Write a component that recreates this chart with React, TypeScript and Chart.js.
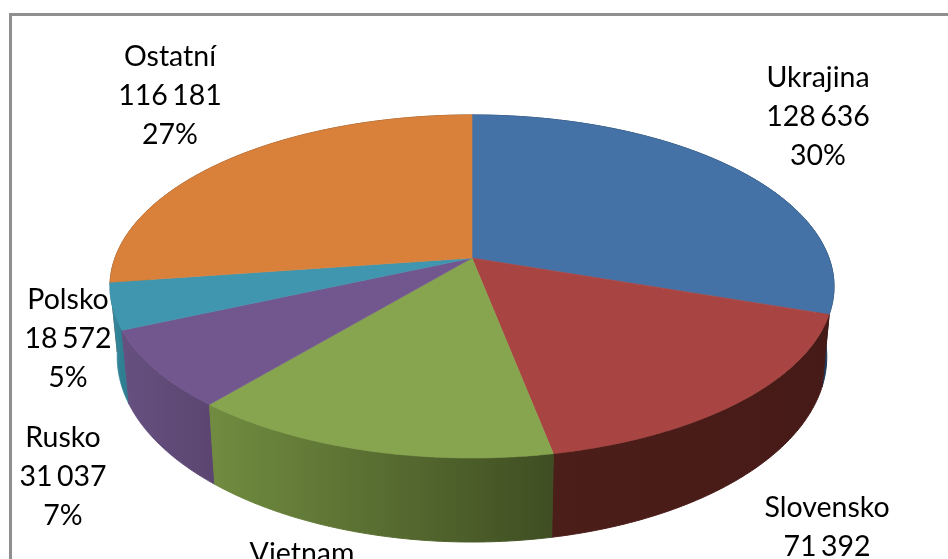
import React, { useEffect, useRef } from "react";
import { Chart, registerables } from "chart.js";

Chart.register(...registerables);

const categories = ["Ukrajina", "Slovensko", "Vietnam", "Rusko", "Polsko", "Ostatní"];
const values = [128636, 71392, 60258, 31037, 18572, 116181];
const valueTexts = ["128 636", "71 392", "", "31 037", "18 572", "116 181"];
const percentTexts = ["30%", "17%", "", "7%", "5%", "27%"];

const topColors = ["#4472a6", "#a84542", "#87a54f", "#72578f", "#3f96ae", "#d9813b"];
const wallLeft = ["#2a4668", "#4c1e1a", "#718c40", "#655080", "#3a8ca2", "#8a5226"];
const wallRight = ["#1f3a58", "#461a17", "#3f4e22", "#5c4671", "#2f7f93", "#8a5226"];

const labelAnchors: [number, number][] = [
  [818, 78], [827, 508], [302, 554], [63, 438], [68, 300], [170, 57],
];

const CX = 472, CY = 258, K = 0.166, A = 166.8, C = 357;

function project(a: number): [number, number] {
  const u = Math.cos(a), v = Math.sin(a);
  const w = 1 - K * v;
  return [(C * u) / w, (A * v) / w];
}
const topPt = (a: number): [number, number] => {
  const [x, y] = project(a);
  return [CX + x, CY + y];
};
const botPt = (a: number): [number, number] => {
  const [x, y] = project(a);
  return [CX + 0.98 * x, CY + 1.08 * y + 68];
};

const pie3d = {
  id: "pie3d",
  beforeDatasetsDraw(chart: any) {
    const ctx: CanvasRenderingContext2D = chart.ctx;
    const arcs = chart.getDatasetMeta(0).data as any[];
    const steps = 120;
    const items = arcs.map((arc, i) => ({ arc, i }));
    // back-to-front: walls of slices nearest the viewer are painted last
    const depth = (o: any) => Math.sin((o.arc.startAngle + o.arc.endAngle) / 2);
    [...items].sort((p, q) => depth(p) - depth(q)).forEach(({ arc, i }) => {
      const pts: [number, number][] = [];
      const back: [number, number][] = [];
      for (let s = 0; s <= steps; s++) {
        const a = arc.startAngle + ((arc.endAngle - arc.startAngle) * s) / steps;
        pts.push(topPt(a));
        back.push(botPt(a));
      }
      const all = pts.concat(back.reverse());
      const xs = pts.map((p) => p[0]);
      const g = ctx.createLinearGradient(Math.min(...xs), 0, Math.max(...xs), 0);
      g.addColorStop(0, wallLeft[i]);
      g.addColorStop(1, wallRight[i]);
      ctx.beginPath();
      all.forEach((p, n) => (n ? ctx.lineTo(p[0], p[1]) : ctx.moveTo(p[0], p[1])));
      ctx.closePath();
      ctx.fillStyle = g;
      ctx.strokeStyle = g;
      ctx.lineWidth = 1;
      ctx.fill();
      ctx.stroke();
    });
    arcs.forEach((arc, i) => {
      ctx.beginPath();
      ctx.moveTo(CX, CY);
      for (let s = 0; s <= steps; s++) {
        const a = arc.startAngle + ((arc.endAngle - arc.startAngle) * s) / steps;
        const p = topPt(a);
        ctx.lineTo(p[0], p[1]);
      }
      ctx.closePath();
      ctx.fillStyle = topColors[i];
      ctx.strokeStyle = topColors[i];
      ctx.lineWidth = 0.6;
      ctx.fill();
      ctx.stroke();
    });
    return false;
  },
  afterDraw(chart: any) {
    const ctx: any = chart.ctx;
    ctx.save();
    ctx.fillStyle = "#000";
    ctx.font = "28.5px Lato";
    ctx.wordSpacing = "-3px";
    ctx.textAlign = "center";
    ctx.textBaseline = "middle";
    categories.forEach((name: string, i: number) => {
      const [x, y] = labelAnchors[i];
      [name, valueTexts[i], percentTexts[i]].forEach((t, n) => {
        if (t) ctx.fillText(t, x, y + n * 39);
      });
    });
    ctx.strokeStyle = "#8f8f8f";
    ctx.lineWidth = 3;
    ctx.beginPath();
    ctx.moveTo(10.5, 559);
    ctx.lineTo(10.5, 14.5);
    ctx.lineTo(948, 14.5);
    ctx.stroke();
    ctx.restore();
  },
};

export default function App() {
  const ref = useRef<HTMLCanvasElement>(null);
  useEffect(() => {
    document.body.style.margin = "0";
    const chart = new Chart(ref.current!, {
      type: "pie",
      data: {
        labels: categories,
        datasets: [{ data: values, backgroundColor: topColors, borderWidth: 0 }],
      },
      options: {
        animation: false,
        responsive: false,
        plugins: { legend: { display: false }, tooltip: { enabled: false }, title: { display: false } },
      },
      plugins: [pie3d],
    });
    return () => chart.destroy();
  }, []);
  return (
    <div style={{ width: 948, height: 559, overflow: "hidden", background: "#fff" }}>
      <canvas ref={ref} width={948} height={559} style={{ display: "block" }} />
    </div>
  );
}
